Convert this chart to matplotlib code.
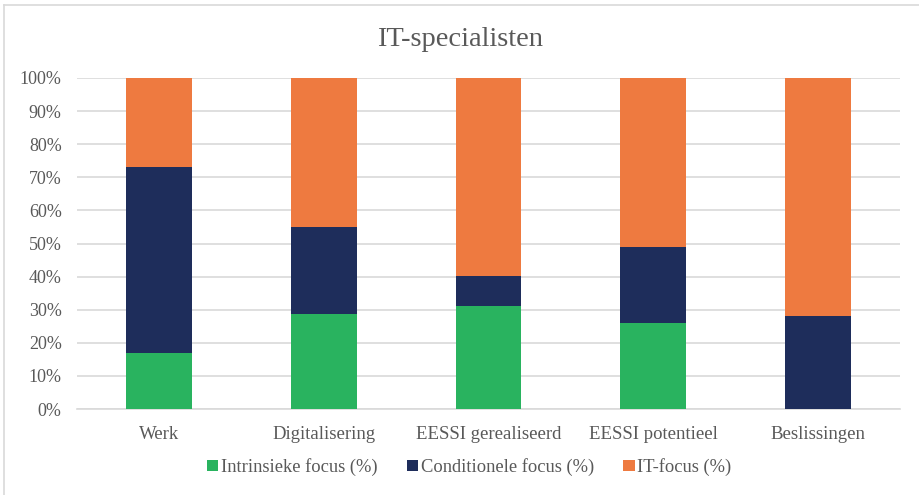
import matplotlib
matplotlib.use("Agg")
import matplotlib.pyplot as plt
from matplotlib.lines import Line2D
import numpy as np

categories = ["Werk", "Digitalisering", "EESSI gerealiseerd", "EESSI potentieel", "Beslissingen"]
intrinsiek = [16.8, 28.8, 31.1, 25.9, 0.0]
conditioneel = [56.4, 26.2, 9.2, 23.1, 28.0]
it_focus = [26.8, 45.0, 59.7, 51.0, 72.0]
series_names = ["Intrinsieke focus (%)", "Conditionele focus (%)", "IT-focus (%)"]
yticks = [0, 10, 20, 30, 40, 50, 60, 70, 80, 90, 100]

colors = ["#29B35F", "#1E2D5B", "#EE7A40"]
text_color = "#595959"
grid_color = "#D9D9D9"

plt.rcParams["font.family"] = ["Liberation Serif", "DejaVu Serif"]

fig = plt.figure(figsize=(9.2, 4.95), dpi=100)
ax = fig.add_axes([77 / 920, 1 - 409 / 495, (900 - 77) / 920, (409 - 78) / 495])

x = np.arange(len(categories))
bottom = np.zeros(len(categories))
for vals, col, name in zip([intrinsiek, conditioneel, it_focus], colors, series_names):
    ax.bar(x, vals, width=0.4, bottom=bottom, color=col, label=name, zorder=3)
    bottom += np.array(vals)

ax.set_xlim(-0.5, len(categories) - 0.5)
ax.set_ylim(0, 100)
ax.set_yticks(yticks)
ax.set_yticklabels([f"{v}%" for v in yticks])
ax.set_xticks(x)
ax.set_xticklabels(categories)
ax.yaxis.grid(True, color=grid_color, linewidth=1.2, zorder=0)
ax.set_axisbelow(True)
for side in ["top", "right", "left"]:
    ax.spines[side].set_visible(False)
ax.spines["bottom"].set_color(grid_color)
ax.spines["bottom"].set_linewidth(1.2)
ax.tick_params(axis="both", length=0, colors=text_color)
ax.tick_params(axis="y", labelsize=13, pad=11)
ax.tick_params(axis="x", labelsize=13.5, pad=12)

fig.text(0.5, 1 - 40 / 495, "IT-specialisten", ha="center", va="center",
         fontsize=20.5, color=text_color)

leg = fig.legend(loc="center", bbox_to_anchor=(0.51, 1 - 467 / 495), ncol=3,
                 frameon=False, fontsize=13.3, handlelength=0.6, handleheight=0.6,
                 handletextpad=0.15, columnspacing=1.6)
for t in leg.get_texts():
    t.set_color(text_color)

# thin outer frame along left and top edges
fig.add_artist(Line2D([4 / 920, 4 / 920], [0, 1 - 5 / 495], transform=fig.transFigure,
                      color=grid_color, linewidth=1.2))
fig.add_artist(Line2D([4 / 920, 1], [1 - 5 / 495, 1 - 5 / 495], transform=fig.transFigure,
                      color=grid_color, linewidth=1.2))

fig.savefig("out.png", dpi=100)
